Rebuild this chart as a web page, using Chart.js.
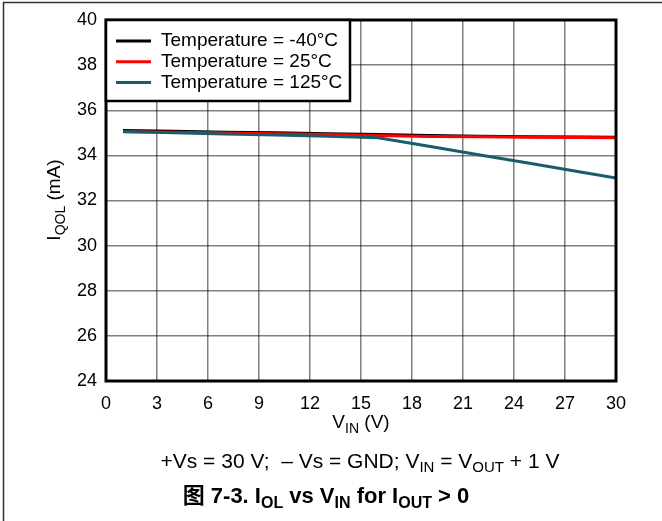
<!DOCTYPE html>
<html>
<head>
<meta charset="utf-8">
<script src="https://cdn.jsdelivr.net/npm/chart.js@4"></script>
<style>
  html, body { margin: 0; padding: 0; background: #fff; }
  #wrap { width: 662px; height: 521px; position: relative; }
</style>
</head>
<body>
<div id="wrap"><canvas id="c" width="662" height="521"></canvas></div>
<script>
// V_IN sweep (V) and quiescent current at each temperature (mA)
const vin = [1, 4, 7, 10, 13, 16, 19, 22, 25, 28, 30];
const iqM40 = [35.1, 35.07, 35.03, 35.0, 34.96, 34.92, 34.88, 34.85, 34.83, 34.81, 34.8];
const iq25 = [35.05, 35.02, 34.99, 34.96, 34.92, 34.88, 34.84, 34.82, 34.8, 34.79, 34.78];
const iq125 = [35.06, 35.0, 34.95, 34.9, 34.85, 34.78, 34.4, 34.02, 33.64, 33.25, 33.0];

const labels = ["Temperature = -40\u00B0C", "Temperature = 25\u00B0C", "Temperature = 125\u00B0C"];
const colors = ["#000000", "#ff0000", "#1b5c6c"];
const xTicks = [0, 3, 6, 9, 12, 15, 18, 21, 24, 27, 30];
const yTicks = [24, 26, 28, 30, 32, 34, 36, 38, 40];

const FONT = "'Liberation Sans', Arial, 'Noto Sans CJK SC', sans-serif";

const pts = (ys) => vin.map((v, i) => ({ x: v, y: ys[i] }));

// text with subscripts: parts = [[text, isSub], ...]
function drawRich(ctx, parts, x, y, size, bold) {
  const w = bold ? "bold " : "";
  const subSize = Math.round(size * 0.72);
  let total = 0;
  for (const [t, sub] of parts) {
    ctx.font = w + (sub ? subSize : size) + "px " + FONT;
    total += ctx.measureText(t).width;
  }
  let cx = x - total / 2;
  ctx.textAlign = "left";
  ctx.textBaseline = "middle";
  for (const [t, sub] of parts) {
    ctx.font = w + (sub ? subSize : size) + "px " + FONT;
    ctx.fillText(t, cx, sub ? y + size * 0.3 : y);
    cx += ctx.measureText(t).width;
  }
}

const decor = {
  id: "decor",
  beforeDraw(chart) {
    const c = chart.ctx;
    c.save();
    c.fillStyle = "#fff";
    c.fillRect(0, 0, chart.width, chart.height);
    c.strokeStyle = "#333";
    c.lineWidth = 1.5;
    c.beginPath();
    c.moveTo(3.5, 521);
    c.lineTo(3.5, 2.5);
    c.lineTo(662, 2.5);
    c.stroke();
    c.restore();
  },
  afterDraw(chart) {
    const c = chart.ctx;
    const a = chart.chartArea;
    c.save();
    // plot frame
    c.strokeStyle = "#000";
    c.lineWidth = 3;
    c.strokeRect(a.left, a.top, a.right - a.left, a.bottom - a.top);

    // legend box
    c.fillStyle = "#fff";
    c.fillRect(a.left, a.top, 244, 81);
    c.lineWidth = 2.5;
    c.strokeRect(a.left, a.top, 244, 81);
    c.font = "19px " + FONT;
    c.textAlign = "left";
    c.textBaseline = "middle";
    labels.forEach((l, i) => {
      const y = a.top + 21 + i * 20.7;
      c.strokeStyle = colors[i];
      c.lineWidth = 3;
      c.beginPath();
      c.moveTo(a.left + 10, y);
      c.lineTo(a.left + 45, y);
      c.stroke();
      c.fillStyle = "#000";
      c.fillText(l, a.left + 55, y);
    });

    // axis titles
    c.fillStyle = "#000";
    drawRich(c, [["V", false], ["IN", true], [" (V)", false]], (a.left + a.right) / 2, 423, 19, false);
    c.save();
    c.translate(55, 200);
    c.rotate(-Math.PI / 2);
    drawRich(c, [["I", false], ["QOL", true], [" (mA)", false]], 0, 0, 19, false);
    c.restore();

    // captions
    drawRich(c, [["+Vs = 30 V;  \u2013 Vs = GND; V", false], ["IN", true], [" = V", false], ["OUT", true], [" + 1 V", false]], 360, 462, 21, false);
    drawRich(c, [["\u56FE 7-3. I", false], ["OL", true], [" vs V", false], ["IN", true], [" for I", false], ["OUT", true], [" > 0", false]], 326, 497, 22, true);
    c.restore();
  }
};

new Chart(document.getElementById("c"), {
  type: "line",
  data: {
    datasets: [
      { label: labels[0], data: pts(iqM40), borderColor: colors[0], order: 2 },
      { label: labels[1], data: pts(iq25), borderColor: colors[1], order: 1 },
      { label: labels[2], data: pts(iq125), borderColor: colors[2], order: 0 }
    ].map(d => Object.assign(d, { borderWidth: 3, pointRadius: 0, tension: 0, fill: false }))
  },
  options: {
    responsive: false,
    animation: false,
    events: [],
    layout: { padding: { left: 0, top: 20, right: 46, bottom: 0 } },
    plugins: { legend: { display: false }, tooltip: { enabled: false } },
    scales: {
      x: {
        type: "linear",
        min: xTicks[0],
        max: xTicks[xTicks.length - 1],
        afterBuildTicks: s => { s.ticks = xTicks.map(v => ({ value: v })); },
        afterFit: s => { s.height = 140; },
        grid: { color: "rgba(0,0,0,0.5)", lineWidth: 1.5, drawTicks: false },
        border: { display: false },
        ticks: { color: "#000", padding: 12, font: { family: FONT, size: 18 } }
      },
      y: {
        min: yTicks[0],
        max: yTicks[yTicks.length - 1],
        afterBuildTicks: s => { s.ticks = yTicks.map(v => ({ value: v })); },
        afterFit: s => { s.width = 106; },
        grid: { color: "rgba(0,0,0,0.5)", lineWidth: 1.5, drawTicks: false },
        border: { display: false },
        ticks: { color: "#000", padding: 9, font: { family: FONT, size: 18 } }
      }
    }
  },
  plugins: [decor]
});
</script>
</body>
</html>
